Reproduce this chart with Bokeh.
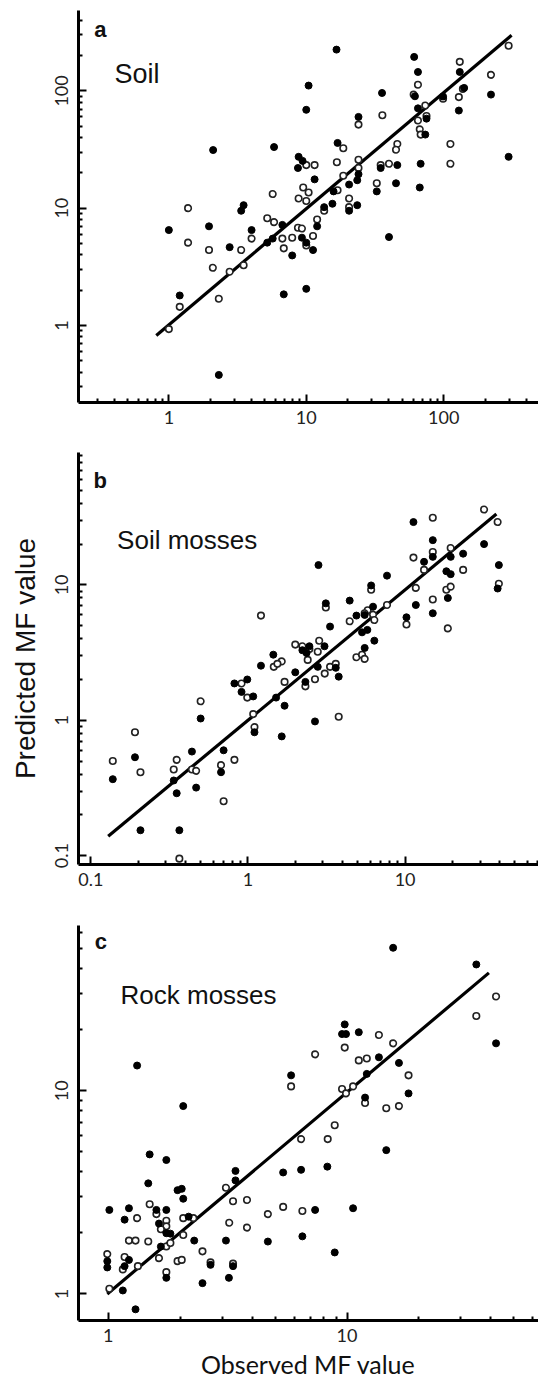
from bokeh.plotting import figure
from bokeh.models import Range1d, FixedTicker, CustomJSTickFormatter, Label
from bokeh.layouts import column
from bokeh.embed import file_html
from bokeh.resources import INLINE

# ---------------- data (observed, predicted) ----------------
# Panel a: Soil
soil_filled_x = [16.6, 61, 131, 65, 10.4, 35.6, 61.8, 221, 141, 99, 129, 10, 65, 75, 24, 73.5,
                 5.83, 2.1, 16.9, 297, 8.8, 9.4, 8.7, 24, 23.5, 20.5, 34.8, 46, 68, 11.5, 45, 67,
                 32.6, 15.8, 15.5, 13.5, 20.5, 23.5, 3.5, 3.36, 6.7, 12, 1.0, 1.96, 4.0, 40, 2.77,
                 5.2, 5.7, 9.3, 10, 11.2, 7.9, 1.2, 6.86, 10, 2.31]
soil_filled_y = [225, 195, 145, 145, 111, 96, 90, 93, 106, 89.6, 68, 69, 71, 58, 60, 42.4,
                 33.2, 31.3, 36, 27.4, 27.4, 25.3, 22, 19.5, 17.3, 15.9, 22, 23.3, 23.9, 17.6, 16.3, 15,
                 13.9, 13.9, 10.9, 10.2, 9.5, 10.6, 10.6, 9.5, 7.2, 7.0, 6.5, 7.0, 6.5, 5.67, 4.65,
                 5.08, 5.5, 5.6, 5.08, 4.39, 3.95, 1.8, 1.84, 2.05, 0.378]
soil_open_x = [297, 131, 221, 65, 60.5, 138, 99, 129, 73.5, 75, 65, 35.8, 24, 67, 68, 18.6,
               46, 45, 112, 10, 11.5, 16.7, 24, 24, 34.8, 40, 112, 18.6, 32.6, 5.7, 9.5, 10.4,
               8.8, 10, 16.9, 13.5, 20.5, 20.5, 1.38, 5.2, 5.83, 12, 8.7, 9.3, 1.38, 1.96, 3.36,
               4.0, 6.7, 6.86, 7.9, 10, 11.2, 2.09, 2.77, 3.5, 1.2, 2.31, 1.0]
soil_open_y = [243, 177, 137, 113, 93, 104, 85.6, 88.5, 75, 61, 56, 62, 51.6, 47, 42.4, 32.4,
               35.3, 31.5, 35.3, 23.3, 23.3, 24.6, 25.9, 22, 23.3, 23.9, 23.9, 18.9, 16.3, 13.2, 15, 13.6,
               12.1, 11.5, 14.2, 9.5, 12.1, 10.2, 10.0, 8.2, 7.6, 8.0, 6.8, 6.7, 5.08, 4.39, 4.39,
               5.5, 5.5, 4.54, 5.6, 4.8, 5.78, 3.1, 2.87, 3.26, 1.44, 1.69, 0.93]
soil_line_x = [0.81, 312]
soil_line_y = [0.82, 298]

# Panel b: Soil mosses
smoss_filled_x = [11.3, 15, 31.8, 15, 19.5, 23.4, 13.2, 39.5, 18.3, 19.5, 2.81, 7.67, 38.8, 6.08,
                  18.7, 11.7, 15, 10.2, 3.13, 4.44, 6.25, 5.53, 4.9, 3.33, 5.75, 5.32, 6.37, 5.53,
                  2.22, 2.46, 2.36, 3.07, 1.45, 1.21, 2.78, 3.62, 3.78, 2.0, 2.32, 0.82, 0.99, 0.91,
                  1.08, 1.51, 1.71, 0.5, 2.67, 1.1, 1.64, 0.191, 0.138, 0.44, 0.337, 0.70, 0.674,
                  0.352, 0.468, 0.207, 0.366]
smoss_filled_y = [29.1, 21.4, 20, 16.1, 16.1, 17, 14.8, 14, 12.6, 12.0, 14, 11.7, 9.4, 9.9,
                  8.0, 7.1, 6.17, 5.76, 7.3, 7.65, 6.9, 6.0, 5.93, 4.92, 4.65, 4.46, 3.87, 3.42,
                  3.29, 3.52, 3.14, 3.52, 3.05, 2.53, 2.48, 2.44, 2.1, 2.26, 1.92, 1.87, 2.0, 1.62,
                  1.5, 1.47, 1.28, 1.03, 0.98, 0.815, 0.76, 0.533, 0.367, 0.587, 0.359, 0.6, 0.413,
                  0.289, 0.318, 0.154, 0.154]
smoss_open_x = [31.8, 15, 38.8, 15, 19.5, 11.3, 13.2, 23.4, 39.5, 6.08, 11.7, 18.3, 19.5, 15,
                7.67, 10.2, 18.7, 1.21, 3.13, 5.78, 5.53, 6.25, 6.37, 4.44, 4.9, 5.32, 5.53, 2.0,
                2.22, 2.46, 2.84, 2.78, 2.4, 1.64, 1.46, 1.54, 3.33, 3.62, 3.08, 2.67, 2.32, 1.71,
                0.91, 0.99, 0.5, 1.08, 3.78, 0.191, 1.1, 0.138, 0.207, 0.352, 0.337, 0.44, 0.468,
                0.82, 0.674, 0.70, 0.366]
smoss_open_y = [36, 31.3, 29.1, 17.5, 18.7, 15.9, 12.9, 12.9, 10.2, 9.2, 9.5, 9.2, 9.7, 7.8,
                7.1, 5.1, 4.77, 5.93, 6.8, 6.5, 6.17, 6.03, 5.5, 5.38, 2.92, 3.05, 2.84, 3.62,
                3.52, 3.36, 3.87, 3.21, 2.79, 2.72, 2.48, 2.61, 2.48, 2.61, 2.21, 2.01, 1.78, 1.92,
                1.87, 1.47, 1.38, 1.11, 1.06, 0.815, 0.89, 0.5, 0.413, 0.51, 0.433, 0.433, 0.423,
                0.51, 0.466, 0.252, 0.095]
smoss_line_x = [0.129, 38.1]
smoss_line_y = [0.139, 33.4]

# Panel c: Rock mosses
rmoss_filled_x = [15.6, 34.8, 42.1, 9.78, 9.53, 9.9, 11.2, 13.6, 16.5, 12.1, 5.83, 18.1, 11.9,
                  1.32, 2.06, 14.6, 1.49, 1.75, 3.41, 5.4, 6.42, 8.27, 3.41, 1.47, 1.95, 2.03,
                  2.06, 7.35, 10.6, 1.01, 1.22, 1.59, 1.75, 1.17, 2.17, 1.63, 1.75, 1.82, 2.29,
                  3.11, 4.66, 6.5, 8.88, 1.66, 0.99, 0.99, 1.22, 1.17, 2.68, 3.33, 1.75, 3.2,
                  2.48, 1.15, 1.3]
rmoss_filled_y = [50.5, 41.8, 17.1, 21.2, 19.0, 19.0, 19.4, 14.6, 13.7, 12.1, 11.9, 9.7, 9.25,
                  13.3, 8.4, 5.1, 4.86, 4.56, 4.03, 3.96, 4.08, 4.23, 3.62, 3.5, 3.24, 3.29,
                  2.94, 2.59, 2.64, 2.59, 2.64, 2.59, 2.59, 2.32, 2.4, 2.22, 1.99, 1.98, 1.83,
                  1.83, 1.81, 1.92, 1.6, 1.71, 1.45, 1.35, 1.47, 1.37, 1.39, 1.37, 1.2, 1.2,
                  1.13, 1.04, 0.84]
rmoss_open_x = [42.1, 34.8, 13.6, 15.6, 9.78, 7.35, 12.1, 11.2, 18.1, 5.83, 10.6, 9.53, 9.9,
                11.9, 14.6, 16.5, 8.88, 6.42, 8.3, 3.11, 3.33, 3.81, 1.49, 5.4, 6.5, 1.59, 1.32,
                4.66, 2.06, 2.27, 1.75, 1.75, 1.66, 3.21, 3.81, 2.06, 1.22, 1.3, 1.47, 1.75, 1.82,
                2.48, 0.99, 1.17, 1.63, 1.95, 2.03, 1.15, 1.33, 2.68, 3.33, 1.75, 1.01]
rmoss_open_y = [29.1, 23.3, 18.8, 17.1, 16.3, 15.1, 14.4, 14.1, 11.9, 10.5, 10.5, 10.2, 9.7,
                8.7, 8.2, 8.4, 6.76, 5.78, 5.78, 3.33, 2.86, 2.9, 2.76, 2.68, 2.56, 2.47, 2.36,
                2.47, 2.36, 2.36, 2.29, 2.15, 2.08, 2.24, 2.12, 1.95, 1.83, 1.83, 1.81, 1.71, 1.78,
                1.62, 1.57, 1.52, 1.5, 1.45, 1.47, 1.32, 1.37, 1.43, 1.41, 1.28, 1.06]
rmoss_line_x = [0.99, 39.3]
rmoss_line_y = [1.0, 38]

# tick labels
soil_ticks = [1, 10, 100]
smoss_ticks = [0.1, 1, 10]
rmoss_ticks = [1, 10]

FMT = CustomJSTickFormatter(code="return String(tick);")


def minor_ticks(lo, hi, majors):
    out = []
    for k in range(-3, 4):
        for m in range(2, 10):
            v = m * 10.0 ** k
            if lo <= v <= hi and v not in majors:
                out.append(v)
    return out


def make_panel(height, top, bottom, xr, yr, xticks, yticks, xminor_lo, yminor_lo):
    p = figure(width=538, height=height, x_axis_type="log", y_axis_type="log",
               x_range=Range1d(*xr), y_range=Range1d(*yr),
               output_backend="svg", toolbar_location=None,
               min_border_left=78, min_border_right=0,
               min_border_top=top, min_border_bottom=bottom)
    p.grid.visible = False
    p.outline_line_color = None
    p.background_fill_color = "white"
    p.border_fill_color = "white"
    p.xaxis.ticker = FixedTicker(ticks=xticks, minor_ticks=minor_ticks(xminor_lo, xr[1], xticks))
    p.yaxis.ticker = FixedTicker(ticks=yticks, minor_ticks=minor_ticks(yminor_lo, yr[1], yticks))
    for ax in (p.xaxis[0], p.yaxis[0]):
        ax.formatter = FMT
        ax.axis_line_width = 3
        ax.axis_line_color = "black"
        ax.major_tick_in = 8
        ax.major_tick_out = 0
        ax.minor_tick_in = 4
        ax.minor_tick_out = 0
        ax.major_tick_line_width = 2
        ax.minor_tick_line_width = 2
        ax.major_label_text_font = "Lato"
        ax.major_label_text_font_size = "18px"
        ax.major_label_text_color = "#222222"
    p.xaxis.major_label_standoff = 8
    p.yaxis.major_label_standoff = 10
    p.yaxis.major_label_orientation = "vertical"
    return p


def add_points(p, fx, fy, ox, oy, lx, ly):
    p.line(lx, ly, line_color="black", line_width=3.2)
    p.scatter(ox, oy, marker="circle", size=6.5, fill_color="white",
              line_color="#222222", line_width=1.6)
    p.scatter(fx, fy, marker="circle", size=7, fill_color="black", line_color="black")


def add_text(p, x, y, txt, size, bold=False):
    p.add_layout(Label(x=x, y=y, text=txt, text_font="Liberation Sans",
                       text_font_size=size, text_font_style="bold" if bold else "normal",
                       text_color="#111111", text_align="left", text_baseline="alphabetic"))


# Panel a
pa = make_panel(440, 10, 38, (0.22, 490), (0.22, 485), soil_ticks, soil_ticks, 0.22, 0.22)
add_points(pa, soil_filled_x, soil_filled_y, soil_open_x, soil_open_y, soil_line_x, soil_line_y)
add_text(pa, 0.286, 336, "a", "22px", bold=True)
add_text(pa, 0.402, 140, "Soil", "27px")

# Panel b
pb = make_panel(460, 12, 36, (0.0835, 70.6), (0.086, 95), smoss_ticks, smoss_ticks, 0.1, 0.1)
add_points(pb, smoss_filled_x, smoss_filled_y, smoss_open_x, smoss_open_y, smoss_line_x, smoss_line_y)
pb.yaxis.axis_label = "Predicted MF value"
pb.yaxis.axis_label_text_font = "Liberation Sans"
pb.yaxis.axis_label_text_font_style = "normal"
pb.yaxis.axis_label_text_font_size = "28px"
pb.yaxis.axis_label_text_color = "#111111"
pb.yaxis.axis_label_standoff = 12
add_text(pb, 0.104, 58.7, "b", "22px", bold=True)
add_text(pb, 0.147, 21.3, "Soil mosses", "26px")

# Panel c
pc = make_panel(481, 25, 58, (0.75, 63.4), (0.74, 65), rmoss_ticks, rmoss_ticks, 1.0, 1.0)
add_points(pc, rmoss_filled_x, rmoss_filled_y, rmoss_open_x, rmoss_open_y, rmoss_line_x, rmoss_line_y)
pc.xaxis.axis_label = "Observed MF value"
pc.xaxis.axis_label_text_font = "Lato"
pc.xaxis.axis_label_text_font_style = "normal"
pc.xaxis.axis_label_text_font_size = "25px"
pc.xaxis.axis_label_text_color = "#111111"
pc.xaxis.axis_label_standoff = 4
add_text(pc, 0.877, 54.2, "c", "22px", bold=True)
add_text(pc, 1.125, 29.6, "Rock mosses", "26px")

layout = column(pa, pb, pc, spacing=0)
open("out.html", "w").write(file_html(layout, INLINE))
